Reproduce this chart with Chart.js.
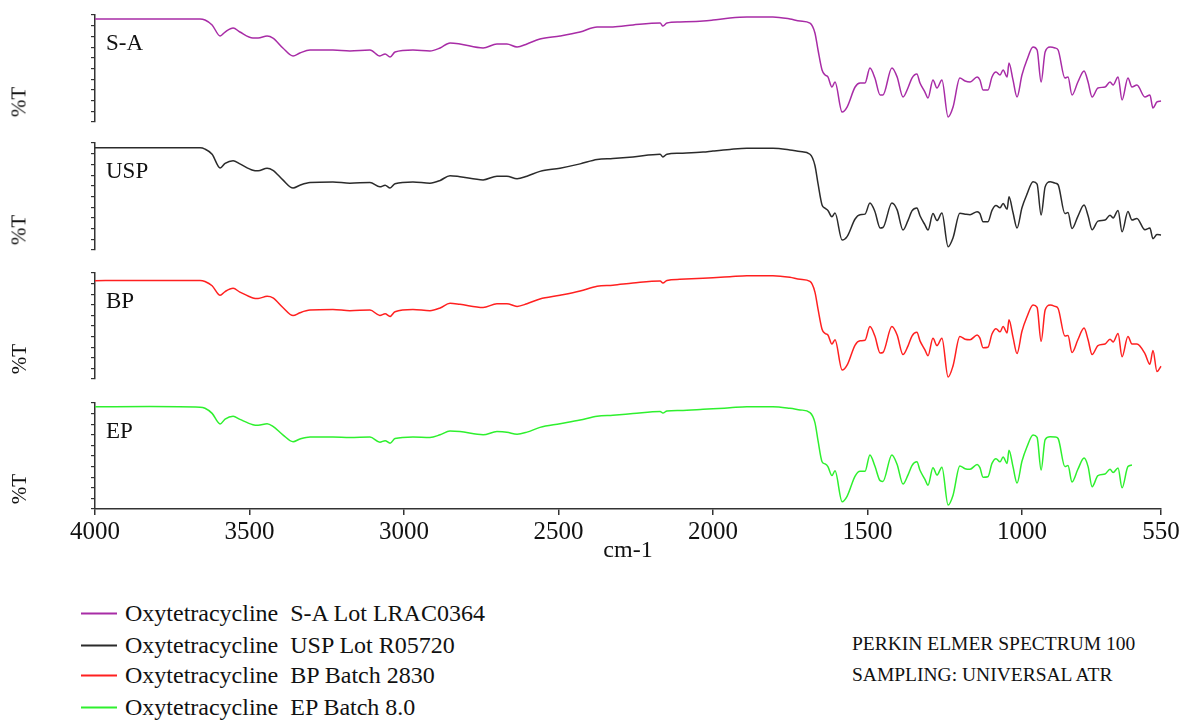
<!DOCTYPE html>
<html>
<head>
<meta charset="utf-8">
<script src="https://cdn.jsdelivr.net/npm/chart.js@4.4.1/dist/chart.umd.min.js"></script>
<style>
  body { margin: 0; background: #fff; }
  #page { position: relative; width: 1192px; height: 720px; overflow: hidden; font-family: "Liberation Serif", "Times New Roman", serif; color: #111; }
  canvas { position: absolute; left: 0; }
  .ylab { position: absolute; font-size: 21px; transform: translate(-50%, -50%) rotate(-90deg); white-space: nowrap; }
  .pname { position: absolute; font-size: 23px; transform: translateY(-50%); white-space: nowrap; }
  .leg { position: absolute; left: 81px; font-size: 24px; transform: translateY(-50%); white-space: pre; display: flex; align-items: center; }
  .leg span.sw { display: inline-block; width: 36px; height: 2px; margin-right: 8px; }
  .note { position: absolute; left: 852px; font-size: 19.5px; transform: translateY(-50%); white-space: nowrap; }
</style>
</head>
<body>
<div id="page"></div>
<script>
// wavenumber grid (cm-1)
var wavenumbers = [4000, 3822, 3660, 3644, 3621, 3595, 3579, 3553, 3531, 3489,
  3472, 3443, 3424, 3392, 3359, 3337, 3304, 3230, 3175, 3110,
  3078, 3061, 3045, 3029, 2971, 2916, 2883, 2851, 2819, 2744,
  2699, 2667, 2634, 2602, 2560, 2495, 2430, 2375, 2324, 2259,
  2171, 2162, 2149, 2107, 2032, 2000, 1945, 1890, 1806, 1751,
  1718, 1686, 1670, 1660, 1647, 1637, 1628, 1615, 1605, 1582,
  1566, 1540, 1524, 1508, 1492, 1476, 1459, 1450, 1421, 1404,
  1385, 1369, 1356, 1340, 1330, 1314, 1304, 1288, 1275, 1259,
  1239, 1223, 1201, 1184, 1168, 1145, 1136, 1126, 1110, 1097,
  1084, 1071, 1061, 1048, 1042, 1029, 1016, 1000, 984, 964,
  951, 938, 925, 909, 893, 883, 861, 851, 838, 819,
  799, 786, 773, 754, 731, 715, 705, 689, 676, 657,
  644, 628, 602, 586, 576, 563, 550];

// %T per sample
var saT = [96.3, 96.3, 96.3, 95.3, 90.7, 80.4, 84.1, 87.9, 84.1, 78.5,
  78.5, 80.4, 78.5, 69.2, 61.7, 64.5, 67.3, 67.3, 66.4, 67.3,
  61.7, 63.6, 60.7, 65.4, 67.3, 66.4, 69.2, 73.8, 72.9, 69.2,
  72.9, 72.9, 70.1, 72.9, 77.6, 80.4, 84.1, 88.8, 88.8, 90.7,
  92.5, 89.7, 92.5, 93.5, 94.4, 95.3, 97.2, 98.1, 98.1, 96.3,
  94.4, 92.5, 83.2, 67.3, 48.6, 43.9, 42.1, 32.7, 37.4, 9.3,
  14.0, 32.7, 36.4, 36.4, 50.5, 41.1, 25.2, 25.2, 50.5, 42.1,
  23.4, 31.8, 41.1, 44.9, 36.4, 28.0, 22.4, 39.3, 31.8, 39.3,
  4.7, 14.0, 41.1, 38.3, 37.4, 42.1, 39.3, 29.9, 29.9, 42.1,
  46.7, 43.9, 48.6, 42.1, 55.1, 39.3, 23.4, 43.9, 57.9, 70.1,
  67.3, 37.4, 65.4, 70.1, 69.2, 67.3, 41.1, 42.1, 25.2, 37.4,
  47.7, 37.4, 23.4, 31.8, 32.7, 37.4, 34.6, 42.1, 20.6, 41.1,
  32.7, 34.6, 23.4, 25.2, 13.1, 18.7, 19.6];

var uspT = [95.6, 95.6, 95.5, 94.3, 89.5, 76.6, 81.0, 83.5, 80.5, 74.5,
  74.0, 76.5, 74.5, 65.5, 57.9, 60.5, 63.0, 63.5, 62.5, 63.0,
  59.0, 60.5, 58.0, 62.0, 63.5, 62.5, 65.0, 69.5, 68.5, 65.5,
  69.0, 69.0, 66.5, 69.0, 73.5, 76.5, 80.5, 84.5, 85.5, 87.0,
  89.5, 87.0, 89.5, 90.5, 91.5, 92.5, 94.0, 95.0, 95.0, 93.5,
  92.0, 89.5, 79.0, 62.0, 42.1, 39.0, 37.0, 31.1, 34.5, 9.3,
  12.5, 29.0, 33.0, 33.5, 43.9, 36.0, 20.6, 21.0, 43.9, 37.5,
  18.7, 27.5, 36.5, 39.3, 32.0, 23.5, 18.7, 34.0, 27.5, 34.5,
  3.1, 11.5, 34.3, 33.5, 33.0, 35.8, 34.0, 26.5, 26.5, 37.0,
  41.5, 39.5, 43.5, 38.0, 49.8, 35.0, 20.6, 39.5, 52.0, 63.8,
  61.5, 32.7, 59.0, 63.8, 62.5, 61.0, 34.0, 35.0, 20.0, 31.5,
  42.0, 32.0, 19.0, 27.0, 28.0, 32.5, 30.0, 37.0, 17.0, 36.0,
  28.0, 29.5, 19.0, 20.5, 10.5, 14.5, 14.0];

var bpT = [92.8, 92.9, 93.0, 92.0, 88.0, 79.0, 82.5, 85.5, 82.0, 76.5,
  76.0, 78.0, 76.5, 67.5, 59.8, 62.5, 65.0, 65.5, 64.5, 65.0,
  60.0, 61.5, 59.0, 63.5, 65.5, 64.5, 67.0, 71.5, 70.5, 67.5,
  71.0, 71.0, 68.5, 71.0, 75.5, 79.0, 83.0, 87.5, 88.5, 90.5,
  92.5, 90.5, 93.0, 94.0, 95.0, 95.5, 96.5, 97.5, 97.5, 96.0,
  94.0, 92.0, 82.0, 66.0, 47.0, 43.0, 41.5, 33.0, 37.0, 8.4,
  13.0, 32.0, 36.0, 36.5, 49.5, 40.5, 24.5, 25.0, 49.5, 41.5,
  23.0, 31.0, 40.5, 44.0, 36.0, 27.5, 22.0, 38.5, 31.5, 38.5,
  1.9, 12.5, 40.0, 37.5, 37.0, 41.5, 38.5, 29.5, 30.0, 42.5,
  47.5, 44.5, 49.5, 43.5, 56.0, 39.5, 24.0, 45.0, 58.5, 69.8,
  67.5, 35.5, 65.0, 69.8, 68.5, 66.5, 40.5, 41.0, 25.0, 37.0,
  48.0, 37.0, 23.0, 31.5, 33.0, 37.5, 35.0, 43.0, 21.0, 40.0,
  33.0, 33.0, 24.0, 14.0, 27.0, 7.0, 12.0];

// EP spectrum stops near 645 cm-1
var epT = [96.5, 96.6, 96.0, 95.0, 90.2, 80.2, 84.8, 87.5, 84.5, 79.5,
  79.0, 80.5, 78.0, 70.0, 63.5, 66.0, 68.0, 68.0, 67.5, 68.0,
  63.0, 64.5, 62.0, 66.5, 68.0, 67.5, 70.0, 73.5, 73.0, 70.0,
  73.0, 72.5, 70.5, 72.5, 77.0, 80.5, 84.0, 87.5, 88.5, 90.0,
  92.0, 90.5, 92.5, 93.0, 94.0, 94.5, 95.5, 96.5, 96.5, 95.0,
  93.5, 91.0, 81.5, 64.5, 44.6, 42.5, 40.0, 31.5, 36.0, 6.9,
  12.0, 31.0, 35.5, 35.5, 51.0, 40.5, 26.7, 26.0, 51.0, 42.0,
  23.5, 32.0, 41.0, 44.5, 36.5, 28.0, 22.5, 39.0, 32.0, 39.5,
  3.8, 13.0, 40.5, 38.0, 37.5, 42.0, 39.0, 30.0, 30.5, 43.0,
  47.5, 44.5, 49.0, 43.0, 55.5, 40.0, 24.5, 45.0, 58.5, 69.8,
  67.5, 36.8, 65.5, 68.2, 68.0, 66.5, 40.0, 41.0, 25.5, 37.5,
  48.0, 40.0, 21.0, 31.5, 33.0, 37.5, 34.5, 38.7, 20.0, 40.0,
  41.5, null, null, null, null, null, null];

var xTickValues = [4000, 3500, 3000, 2500, 2000, 1500, 1000, 550];
var panelNames = ["S-A", "USP", "BP", "EP"];
var legendLabels = ["Oxytetracycline  S-A Lot LRAC0364", "Oxytetracycline  USP Lot R05720",
  "Oxytetracycline  BP Batch 2830", "Oxytetracycline  EP Batch 8.0"];
var seriesColors = ["#a82ca6", "#2b2b2b", "#ff2020", "#2ef02e"];
var seriesValues = [saT, uspT, bpT, epT];

var panelTop = [15, 143, 273, 403];
var panelBottom = [122, 250, 379, 509];
var serif = "'Liberation Serif', 'Times New Roman', serif";
var page = document.getElementById('page');

function addText(cls, txt, left, top) {
    var d = document.createElement('div');
    d.className = cls;
    d.textContent = txt;
    d.style.left = left + 'px';
    d.style.top = top + 'px';
    page.appendChild(d);
    return d;
}

function makePanel(i) {
    var last = (i === 3);
    var h = panelBottom[i] - panelTop[i];
    var canvas = document.createElement('canvas');
    var cHeight = last ? h + 4 + 60 : h + 8;
    canvas.width = 1192;
    canvas.height = cHeight;
    canvas.style.top = (panelTop[i] - 4) + 'px';
    page.appendChild(canvas);

    var pts = [];
    wavenumbers.forEach(function (w, k) {
        if (seriesValues[i][k] !== null) pts.push({ x: w, y: seriesValues[i][k] });
    });

    new Chart(canvas, {
        type: 'line',
        data: {
            datasets: [{
                data: pts,
                borderColor: seriesColors[i],
                borderWidth: 1.5,
                pointRadius: 0,
                fill: false,
                cubicInterpolationMode: 'monotone',
                clip: 6
            }]
        },
        options: {
            responsive: false,
            animation: false,
            layout: { padding: { left: 89, right: 31, top: 4, bottom: last ? 0 : 4 } },
            plugins: { legend: { display: false }, tooltip: { enabled: false } },
            scales: {
                x: {
                    type: 'linear',
                    reverse: true,
                    min: 550,
                    max: 4000,
                    display: last,
                    afterBuildTicks: function (s) {
                        s.ticks = xTickValues.map(function (v) { return { value: v }; });
                    },
                    afterFit: function (s) { if (last) s.height = 60; },
                    grid: { drawOnChartArea: false, tickLength: 6, color: '#333', lineWidth: 1.5 },
                    border: { color: '#333', width: 1.5 },
                    ticks: {
                        color: '#111',
                        padding: 2,
                        maxRotation: 0,
                        autoSkip: false,
                        font: { family: serif, size: 25 },
                        callback: function (v) { return String(v); }
                    },
                    title: {
                        display: true,
                        text: 'cm-1',
                        color: '#111',
                        font: { family: serif, size: 24 },
                        padding: { top: 0, bottom: 4 }
                    }
                },
                y: {
                    min: 0,
                    max: 100,
                    afterFit: function (s) { s.width = 6; },
                    ticks: { stepSize: 10, display: false },
                    grid: { drawOnChartArea: false, tickLength: 4, color: '#333', lineWidth: 1.2 },
                    border: { color: '#333', width: 1.5 }
                }
            }
        }
    });

    addText('ylab', '%T', 19, panelBottom[i] - 20);
    addText('pname', panelNames[i], 106, panelTop[i] + 28);
}

for (var i = 0; i < 4; i++) makePanel(i);

var legendY = [613, 645, 675, 707];
legendLabels.forEach(function (txt, k) {
    var d = document.createElement('div');
    d.className = 'leg';
    d.style.top = legendY[k] + 'px';
    var sw = document.createElement('span');
    sw.className = 'sw';
    sw.style.background = seriesColors[k];
    d.appendChild(sw);
    d.appendChild(document.createTextNode(txt));
    page.appendChild(d);
});

addText('note', 'PERKIN ELMER SPECTRUM 100', 852, 644);
addText('note', 'SAMPLING: UNIVERSAL ATR', 852, 675);
</script>
</body>
</html>
